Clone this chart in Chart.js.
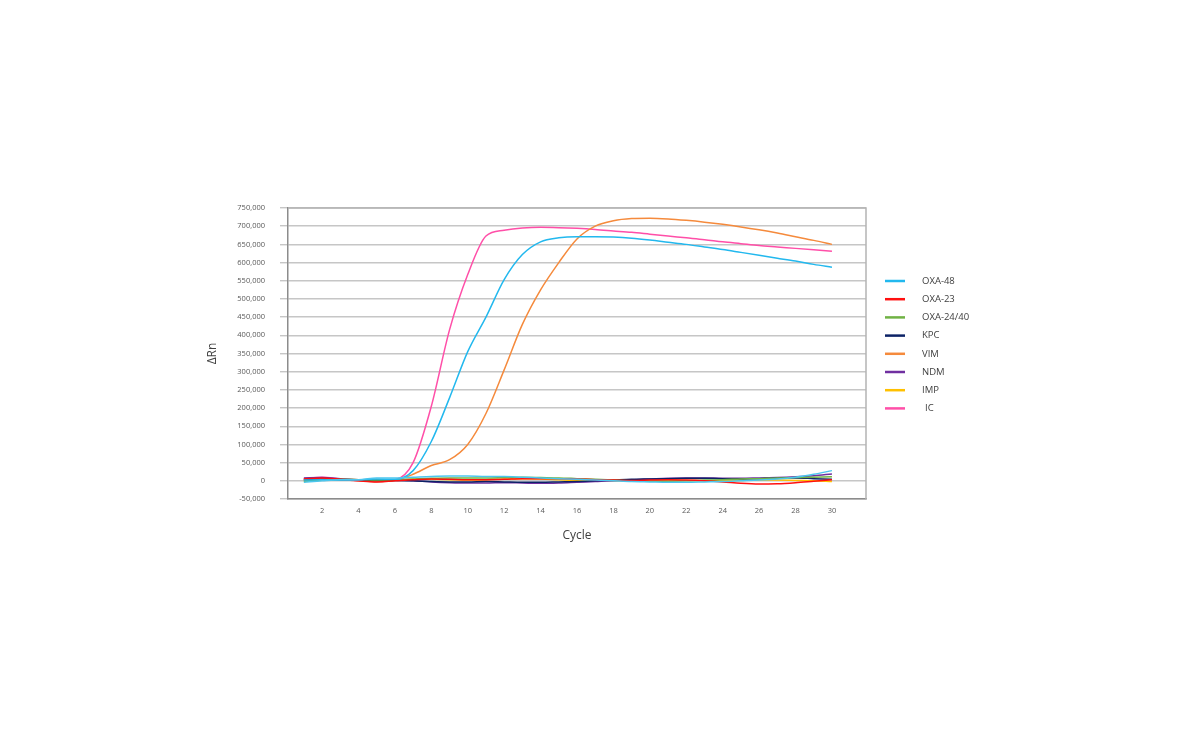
<!DOCTYPE html>
<html>
<head>
<meta charset="utf-8">
<script src="https://cdn.jsdelivr.net/npm/chart.js@4/dist/chart.umd.min.js"></script>
<style>
    html, body { margin: 0; padding: 0; background: #ffffff; }
    canvas { display: block; }
</style>
</head>
<body>
<canvas id="chart" width="1200" height="754"></canvas>
<script>
// cycles and tick labels
const cycles = [1, 2, 3, 4, 5, 6, 7, 8, 9, 10, 11, 12, 13, 14, 15, 16, 17, 18, 19, 20, 21, 22, 23, 24, 25, 26, 27, 28, 29, 30];
const cycleTicks = [2, 4, 6, 8, 10, 12, 14, 16, 18, 20, 22, 24, 26, 28, 30];

// ΔRn per cycle
const oxa48 = [2000, 3000, 2000, 3000, 5000, 4000, 28000, 108000, 228000, 355000, 450000, 553000, 622000, 657000, 668000, 671000, 671000, 670000, 667000, 662000, 656000, 650000, 643000, 636000, 628000, 620000, 612000, 604000, 595000, 587000];
const oxa23 = [5000, 8000, 4000, 0, -3000, 0, 3000, 5000, 4000, 3000, 3000, 4000, 6000, 6000, 6000, 5000, 3000, 2000, 1000, 2000, 3000, 2000, 0, -3000, -7000, -9000, -8000, -5000, -1000, 3000];
const oxa2440 = [-2000, 2000, 4000, 3000, 2000, 3000, 5000, 7000, 8000, 8000, 8000, 9000, 10000, 9000, 8000, 6000, 4000, 2000, 0, -1000, -1000, 0, 2000, 3000, 5000, 6000, 8000, 9000, 10000, 11000];
const kpc = [3000, 4000, 3000, 2000, 1000, 1000, 0, -2000, -3000, -3000, -2000, -3000, -4000, -4000, -3000, -2000, 0, 2000, 4000, 5000, 6000, 7000, 7000, 6000, 5000, 6000, 7000, 8000, 6000, 4000];
const vim = [4000, 5000, 3000, 0, -2000, 1000, 18000, 42000, 58000, 100000, 185000, 305000, 430000, 525000, 600000, 665000, 700000, 715000, 721000, 722000, 720000, 716000, 711000, 705000, 698000, 690000, 681000, 671000, 661000, 650000];
const ndm = [8000, 9000, 6000, 3000, 2000, 2000, 0, -3000, -5000, -6000, -6000, -5000, -6000, -7000, -6000, -4000, -2000, 0, 3000, 5000, 7000, 8000, 8000, 7000, 7000, 8000, 9000, 11000, 14000, 19000];
const imp = [0, 3000, 4000, 3000, 2000, 3000, 4000, 4000, 3000, 2000, 3000, 5000, 6000, 5000, 3000, 1000, 0, 0, 1000, 2000, 2000, 1000, 0, 0, 1000, 2000, 2000, 1000, 0, -2000];
const ic = [6000, 10000, 5000, 0, -2000, 2000, 50000, 205000, 415000, 567000, 673000, 689000, 695000, 697000, 696000, 694000, 691000, 687000, 683000, 678000, 673000, 668000, 663000, 657000, 652000, 647000, 643000, 639000, 635000, 631000];
// extra negative-well trace (not in legend)
const oxa48Neg = [-4000, 0, 3000, 3000, 8000, 8000, 10000, 12000, 13000, 13000, 12000, 12000, 10000, 8000, 6000, 4000, 2000, 0, -2000, -3000, -4000, -4000, -3000, -2000, 0, 2000, 5000, 10000, 18000, 28000];

const seriesNames = ["OXA-48", "OXA-23", "OXA-24/40", "KPC", "VIM", "NDM", "IMP", "IC"];
const seriesValues = [oxa48, oxa23, oxa2440, kpc, vim, ndm, imp, ic];
const seriesColors = ["#22b8ee", "#ff1010", "#70b244", "#0c2266", "#f58a3c", "#7030a0", "#ffc000", "#ff4fa8"];

function toPoints(values) {
    return values.map((v, i) => ({x: cycles[i], y: v}));
}

let datasets = [{
    label: "",
    data: toPoints(oxa48Neg),
    borderColor: "#4cc6ee",
    legend: false
}];
seriesNames.forEach((name, i) => {
    datasets.push({label: name, data: toPoints(seriesValues[i]), borderColor: seriesColors[i], legend: true});
});
datasets.forEach(ds => {
    ds.borderWidth = 1.5;
    ds.pointRadius = 0;
    ds.fill = false;
    ds.cubicInterpolationMode = "monotone";
});

// right-hand legend and plot frame
const frameAndLegend = {
    id: "frameAndLegend",
    afterDraw(chart) {
        const {ctx, chartArea: {left, right, top, bottom}} = chart;
        ctx.save();
        ctx.strokeStyle = "#b4b4b4";
        ctx.lineWidth = 1.5;
        ctx.beginPath();
        ctx.moveTo(left, top);
        ctx.lineTo(right, top);
        ctx.lineTo(right, bottom);
        ctx.stroke();

        let items = chart.data.datasets.filter(ds => ds.legend);
        ctx.font = "9.5px 'Open Sans', sans-serif";
        ctx.textBaseline = "middle";
        ctx.fillStyle = "#404040";
        items.forEach((ds, i) => {
            let y = 281 + i * 18.2;
            ctx.strokeStyle = ds.borderColor;
            ctx.lineWidth = 2.5;
            ctx.beginPath();
            ctx.moveTo(885, y);
            ctx.lineTo(905, y);
            ctx.stroke();
            ctx.fillText(ds.label, ds.label === "IC" ? 925 : 922, y);
        });
        ctx.restore();
    }
};

let ctx2d = document.getElementById("chart").getContext("2d");
new Chart(ctx2d, {
    type: "line",
    data: {datasets: datasets},
    options: {
        responsive: false,
        animation: false,
        layout: {padding: {left: 205, right: 334, top: 208, bottom: 205}},
        plugins: {legend: {display: false}, tooltip: {enabled: false}},
        scales: {
            x: {
                type: "linear",
                min: 0.13,
                max: 31.87,
                afterBuildTicks: scale => { scale.ticks = cycleTicks.map(v => ({value: v})); },
                afterFit: scale => { scale.height = 50; },
                grid: {display: false, drawTicks: false},
                border: {display: true, color: "#8c8c8c", width: 1.5},
                ticks: {
                    padding: 7,
                    maxRotation: 0,
                    autoSkip: false,
                    color: "#595959",
                    font: {family: "'Open Sans', sans-serif", size: 7.5}
                },
                title: {
                    display: true,
                    text: "Cycle",
                    color: "#404040",
                    padding: {top: 0, bottom: 6},
                    font: {family: "'Open Sans', sans-serif", size: 12}
                }
            },
            y: {
                min: -50000,
                max: 750000,
                afterFit: scale => { scale.width = 83; },
                ticks: {
                    stepSize: 50000,
                    padding: 15,
                    color: "#595959",
                    font: {family: "'Open Sans', sans-serif", size: 7.5},
                    callback: v => v.toLocaleString("en-US")
                },
                grid: {color: "#c6c6c6", lineWidth: 1.4, tickLength: 8},
                border: {display: true, color: "#8c8c8c", width: 1.5},
                title: {
                    display: true,
                    text: "ΔRn",
                    color: "#404040",
                    padding: 0,
                    font: {family: "'Open Sans', sans-serif", size: 12}
                }
            }
        }
    },
    plugins: [frameAndLegend]
});
</script>
</body>
</html>
